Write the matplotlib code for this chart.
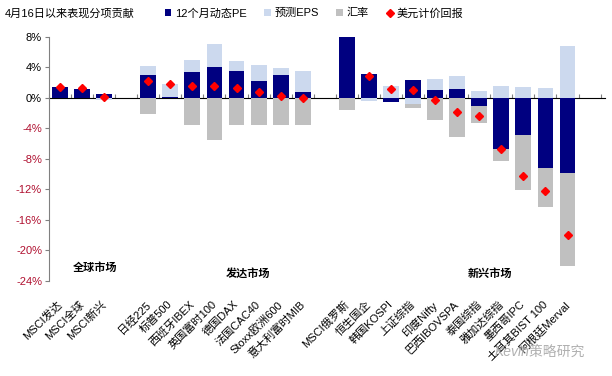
import numpy as np
import matplotlib
matplotlib.use("Agg")
from matplotlib import pyplot as plt

plt.rcParams['font.family'] = ['Liberation Sans', 'Noto Sans CJK SC', 'DejaVu Sans']

# categories (empty strings are the gaps between groups)
names = ['MSCI发达', 'MSCI全球', 'MSCI新兴', '',
         '日经225', '标普500', '西班牙IBEX', '英国富时100', '德国DAX', '法国CAC40',
         'Stoxx欧洲600', '意大利富时MIB', '',
         'MSCI俄罗斯', '恒生国企', '韩国KOSPI', '上证综指', '印度Nifty', '巴西IBOVSPA',
         '泰国综指', '雅加达综指', '墨西哥IPC', '土耳其BIST 100', '阿根廷Merval']

# contributions in %
pe  = [1.4, 1.2, 0.5, np.nan,
       3.05, 0.1, 3.4, 4.05, 3.55, 2.28, 3.07, 0.75, np.nan,
       8.0, 3.2, -0.5, 2.3, 1.1, 1.23, -1.0, -6.65, -4.8, -9.18, -9.8]
eps = [0.0, 0.0, -0.3, np.nan,
       1.2, 1.8, 1.6, 3.05, 1.3, 2.0, 0.8, 2.75, np.nan,
       0.0, -0.4, 1.53, -0.75, 1.45, 1.62, 0.88, 1.53, 1.4, 1.36, 6.8]
fx  = [0.0, 0.0, 0.0, np.nan,
       -2.05, 0.0, -3.5, -5.55, -3.5, -3.5, -3.5, -3.5, np.nan,
       -1.52, 0.0, 0.0, -0.55, -2.9, -5.1, -2.3, -1.6, -7.3, -5.1, -12.2]
ret = [1.5, 1.35, 0.15, np.nan,
       2.2, 1.85, 1.6, 1.55, 1.35, 0.8, 0.27, 0.0, np.nan,
       np.nan, 2.85, 1.23, 1.0, -0.3, -1.88, -2.3, -6.65, -10.2, -12.2, -18.0]

groups = ['全球市场', '发达市场', '新兴市场']
group_pos = [(1.6, -22.2), (8.5, -23.0), (19.5, -23.0)]

navy = '#000080'
light = '#CCD9EE'
grey = '#C0C0C0'

fig = plt.figure(figsize=(6.12, 3.76), dpi=100)
ax = fig.add_axes([0.080, 0.2527, 0.9086, 0.6489])

x = np.arange(len(names))
w = 0.72
pos_base = np.zeros(len(names))
neg_base = np.zeros(len(names))
handles = []
for vals, col, lab in [(pe, navy, '12个月动态PE'), (eps, light, '预测EPS'), (fx, grey, '汇率')]:
    v = np.nan_to_num(np.array(vals, dtype=float))
    bottoms = np.where(v >= 0, pos_base, neg_base)
    h = ax.bar(x, v, w, bottom=bottoms, color=col, label=lab, zorder=2)
    handles.append(h)
    pos_base = pos_base + np.where(v > 0, v, 0)
    neg_base = neg_base + np.where(v < 0, v, 0)

m, = ax.plot(x, ret, 'D', color='#FF0000', markersize=4.5, label='美元计价回报', zorder=3)
handles.append(m)

ax.set_xlim(-0.5, 24.7)
ax.set_ylim(-24, 8)
yt = np.arange(-24, 9, 4)
ax.set_yticks(yt)
ax.set_yticklabels(['%d%%' % t for t in yt], fontsize=8)
for t, lab in zip(yt, ax.get_yticklabels()):
    lab.set_color('#B01030' if t < 0 else 'black')
ax.tick_params(axis='y', length=3, color='#808080', pad=2)

for s in ['top', 'right', 'bottom']:
    ax.spines[s].set_visible(False)
ax.spines['left'].set_color('#808080')

# category labels at the bottom, rotated
ax.set_xticks(x - 0.15)
ax.set_xticklabels(names, rotation=45, ha='right', rotation_mode='anchor', fontsize=8)
ax.tick_params(axis='x', length=0, pad=13)

# zero axis with ticks between categories
sec = ax.secondary_xaxis(0.75)
sec.set_xticks(np.arange(-0.5, 24.6, 1))
sec.set_xticklabels([])
sec.tick_params(length=3, color='#808080')
sec.spines['bottom'].set_color('#808080')

for g, (gx, gy) in zip(groups, group_pos):
    ax.text(gx, gy, g, fontsize=8, fontweight='bold', ha='center', va='center',
            family=['Noto Sans CJK SC'])

fig.text(0.007, 0.965, '4月16日以来表现分项贡献', fontsize=8, va='center')
fig.legend(handles=handles, loc='center left', bbox_to_anchor=(0.262, 0.965), ncol=4,
           frameon=False, fontsize=8, handlelength=0.6, handleheight=0.6,
           handletextpad=0.3, columnspacing=1.6, borderaxespad=0)

fig.text(0.955, 0.065, 'Kevin策略研究', fontsize=10, color='#B0B0B0', ha='right',
         va='center', style='italic')

fig.savefig('out.png', dpi=100)
